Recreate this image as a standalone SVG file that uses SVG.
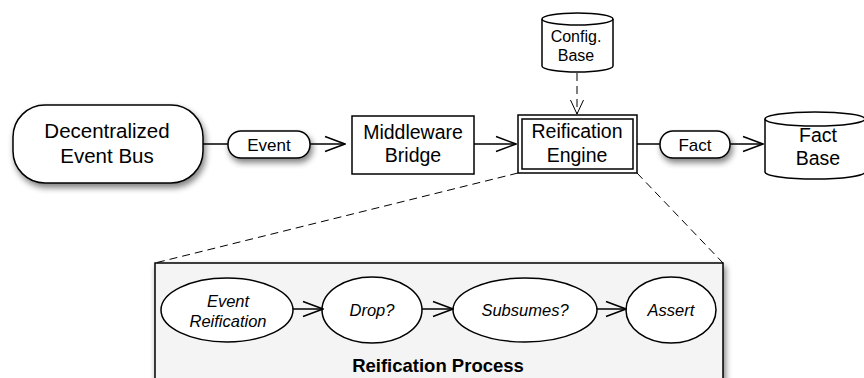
<svg xmlns="http://www.w3.org/2000/svg" width="864" height="378" viewBox="0 0 864 378">
  <style>
    .box { fill: #ffffff; stroke: #000000; stroke-width: 1.5; }
    .edge { fill: none; stroke: #000000; stroke-width: 1.5; }
    .dash { fill: none; stroke: #000000; stroke-width: 1; stroke-dasharray: 8 5; }
    .t { font-family: "Liberation Sans", Arial, sans-serif; fill: #000000; text-anchor: middle; }
    .it { font-style: italic; }
  </style>
  <defs>
    <marker id="open" viewBox="0 0 22 18" refX="21" refY="9" markerWidth="22" markerHeight="18" markerUnits="userSpaceOnUse" orient="auto">
      <path d="M1,1.5 L21,9 L1,16.5" fill="none" stroke="#000" stroke-width="1.5"/>
    </marker>
    <marker id="openThin" viewBox="0 0 16 16" refX="8" refY="15" markerWidth="16" markerHeight="16" markerUnits="userSpaceOnUse">
      <path d="M1.5,1 L8,15 L14.5,1" fill="none" stroke="#000" stroke-width="1"/>
    </marker>
    <filter id="shadow" x="-20%" y="-20%" width="150%" height="160%">
      <feGaussianBlur in="SourceAlpha" stdDeviation="3"/>
      <feOffset dx="2" dy="4" result="b"/>
      <feComponentTransfer><feFuncA type="linear" slope="0.5"/></feComponentTransfer>
      <feMerge><feMergeNode/><feMergeNode in="SourceGraphic"/></feMerge>
    </filter>
  </defs>

  <!-- zoom lines from the engine to its process -->
  <g id="zoom-lines">
    <path class="dash" d="M518,173 L155,263"/>
    <path class="dash" d="M637,173 L723,263"/>
  </g>

  <g id="reification-process">
    <rect x="155" y="263" width="568" height="130" fill="#f4f4f4" stroke="#000" stroke-width="1.5" filter="url(#shadow)"/>
    <text class="t" x="438" y="372" font-size="18.5" font-weight="bold">Reification Process</text>
  </g>

  <g id="event-bus">
    <rect class="box" x="13" y="105" width="190" height="78" rx="32" ry="32" filter="url(#shadow)"/>
    <text class="t" x="107" y="138" font-size="20.5">Decentralized</text>
    <text class="t" x="107" y="163" font-size="20.5">Event Bus</text>
  </g>

  <g id="middleware-bridge">
    <rect class="box" x="352" y="116" width="122" height="58"/>
    <text class="t" x="413" y="139" font-size="19.5">Middleware</text>
    <text class="t" x="413" y="162" font-size="19.5">Bridge</text>
  </g>

  <g id="reification-engine">
    <rect class="box" x="518" y="115" width="119" height="58"/>
    <rect class="box" x="522" y="119" width="111" height="50" stroke-width="1.2"/>
    <text class="t" x="577" y="138" font-size="19.5">Reification</text>
    <text class="t" x="577" y="162" font-size="19.5">Engine</text>
  </g>

  <g id="config-base">
    <path class="box" d="M542,19 L542,66 A35.5,6 0 0 0 613,66 L613,19 A35.5,6 0 0 0 542,19 Z"/>
    <path class="edge" d="M542,19 A35.5,6 0 0 0 613,19"/>
    <text class="t" x="576" y="41.5" font-size="16">Config.</text>
    <text class="t" x="576" y="61" font-size="16">Base</text>
  </g>

  <g id="fact-base">
    <path class="box" d="M765,119 L765,172 A50,7 0 0 0 865,172 L865,119 A50,7 0 0 0 765,119 Z"/>
    <path class="edge" d="M765,119 A50,7 0 0 0 865,119"/>
    <text class="t" x="818" y="141.5" font-size="19.5">Fact</text>
    <text class="t" x="818" y="165" font-size="19.5">Base</text>
  </g>

  <g id="event-reification">
    <ellipse class="box" cx="227" cy="310" rx="66" ry="32"/>
    <text class="t it" x="228" y="306.5" font-size="16.5">Event</text>
    <text class="t it" x="228" y="326.5" font-size="16.5">Reification</text>
  </g>
  <g id="drop">
    <ellipse class="box" cx="372" cy="310" rx="50" ry="33"/>
    <text class="t it" x="372" y="316" font-size="16.5">Drop?</text>
  </g>
  <g id="subsumes">
    <ellipse class="box" cx="525" cy="310" rx="72" ry="32"/>
    <text class="t it" x="525" y="316" font-size="16.5">Subsumes?</text>
  </g>
  <g id="assert">
    <ellipse class="box" cx="671" cy="310" rx="45" ry="33"/>
    <text class="t it" x="671" y="316" font-size="16.5">Assert</text>
  </g>

  <g id="connectors">
    <path class="edge" d="M203,144 L228,144"/>
    <path class="edge" d="M310,144 L345,144" marker-end="url(#open)"/>
    <path class="edge" d="M474,144 L516,144" marker-end="url(#open)"/>
    <path class="edge" d="M637,144 L660,144"/>
    <path class="edge" d="M730,144 L763,144" marker-end="url(#open)"/>
    <path class="dash" d="M577,73 L577,114" stroke-dasharray="15 13"/>
    <path d="M577,114 L577,114" marker-end="url(#openThin)"/>
    <path class="edge" d="M293,309 L323,309" marker-end="url(#open)"/>
    <path class="edge" d="M422,309 L453,309" marker-end="url(#open)"/>
    <path class="edge" d="M597,309 L626,309" marker-end="url(#open)"/>
  </g>

  <!-- labelled pills on the data flow -->
  <g id="event-label">
    <rect class="box" x="228" y="131" width="82" height="27" rx="13" ry="13" filter="url(#shadow)"/>
    <text class="t" x="269" y="150.5" font-size="17">Event</text>
  </g>
  <g id="fact-label">
    <rect class="box" x="660" y="131" width="70" height="27" rx="13" ry="13" filter="url(#shadow)"/>
    <text class="t" x="695" y="150.5" font-size="17">Fact</text>
  </g>
</svg>
